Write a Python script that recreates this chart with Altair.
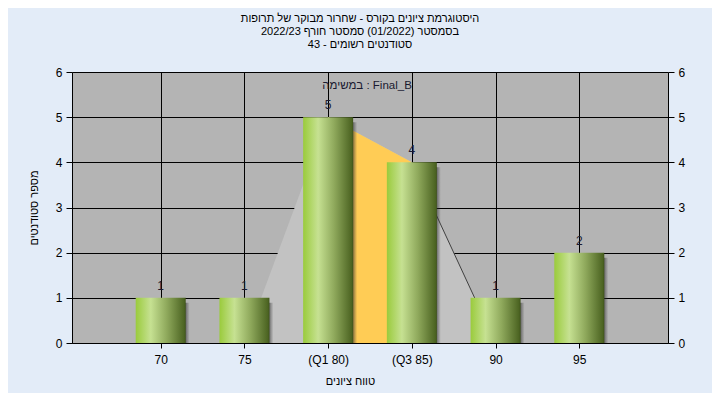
import altair as alt
import pandas as pd

# ---- data ----
grades = [70, 75, 80, 85, 90, 95]
counts = [1, 1, 5, 4, 1, 2]
tick_labels = ["70", "75", "(Q1 80)", "(Q3 85)", "90", "95"]

poly_x = [75, 80, 85, 90]
poly_y = [0, 5, 4, 0]
iqr_x = [80, 85]
iqr_y = [5, 4]
tail_x = [85, 90]
tail_y = [4, 0]

title_lines = [
    "היסטוגרמת ציונים בקורס - שחרור מבוקר של תרופות",
    "בסמסטר  (01/2022)  סמסטר חורף 2022/23",
    "סטודנטים רשומים - 43",
]
annotation = "במשימה : Final_B"
x_title = "טווח ציונים"
y_title = "מספר סטודנטים"

FONT = "Liberation Sans"

bars_df = pd.DataFrame({"x": grades, "y": counts})
poly_df = pd.DataFrame({"x": poly_x, "y": poly_y})
iqr_df = pd.DataFrame({"x": iqr_x, "y": iqr_y})
tail_df = pd.DataFrame({"x": tail_x, "y": tail_y})

label_expr = " : ".join(
    [f"datum.value == {g} ? '{t}'" for g, t in zip(grades, tick_labels)]
) + " : ''"

xscale = alt.Scale(domain=[65, 100], nice=False, zero=False)
yscale = alt.Scale(domain=[0, 6], nice=False)

xaxis = alt.Axis(
    values=grades, labelExpr=label_expr, title=x_title, grid=True,
    gridColor="#000000", gridOpacity=1, gridWidth=1,
    domainColor="#000000", tickColor="#000000", tickSize=5,
    labelFont=FONT, labelFontSize=12, labelColor="#000000", labelPadding=6,
    titleFont=FONT, titleFontSize=11, titleFontWeight="normal",
    titleColor="#000000", titleX=278, titleY=38, titleBaseline="middle",
)
yaxis_left = alt.Axis(
    values=[0, 1, 2, 3, 4, 5, 6], title=y_title, grid=True,
    gridColor="#000000", gridOpacity=1, gridWidth=1,
    domainColor="#000000", tickColor="#000000", tickSize=6,
    labelFont=FONT, labelFontSize=12, labelColor="#000000", labelPadding=4,
    titleFont=FONT, titleFontSize=11, titleFontWeight="normal",
    titleColor="#000000", titlePadding=16,
)
yaxis_right = alt.Axis(
    values=[0, 1, 2, 3, 4, 5, 6], orient="right", title=None, grid=False,
    domainColor="#000000", tickColor="#000000", tickSize=6,
    labelFont=FONT, labelFontSize=12, labelColor="#000000", labelPadding=4,
)

X = alt.X("x:Q", scale=xscale, axis=xaxis)

area = alt.Chart(poly_df).mark_area(color="#c2c2c2", opacity=1).encode(
    x=X,
    y=alt.Y("y:Q", scale=yscale, axis=yaxis_left),
)
iqr = alt.Chart(iqr_df).mark_area(color="#ffcc55", opacity=1).encode(
    x=X,
    y=alt.Y("y:Q", scale=yscale, axis=None),
)
tail = alt.Chart(tail_df).mark_line(color="#404040", strokeWidth=1).encode(
    x=X,
    y=alt.Y("y:Q", scale=yscale, axis=None),
)

shadow_grad = alt.Gradient(
    gradient="linear", x1=0, x2=1, y1=0, y2=0,
    stops=[
        alt.GradientStop(color="#2a2a2a", offset=0),
        alt.GradientStop(color="#2a2a2a", offset=0.9),
        alt.GradientStop(color="rgba(60,60,60,0)", offset=1),
    ],
)
shadow = alt.Chart(bars_df).mark_bar(
    size=50, xOffset=4, yOffset=5, fill=shadow_grad, opacity=0.7, clip=True
).encode(
    x=X,
    y=alt.Y("y:Q", scale=yscale, axis=None),
)

bar_grad = alt.Gradient(
    gradient="linear", x1=0, x2=1, y1=0, y2=0,
    stops=[
        alt.GradientStop(color="#9acb3c", offset=0),
        alt.GradientStop(color="#c6e192", offset=0.3),
        alt.GradientStop(color="#8fa95c", offset=0.62),
        alt.GradientStop(color="#4c6422", offset=0.97),
        alt.GradientStop(color="#3e521a", offset=1),
    ],
)
bars = alt.Chart(bars_df).mark_bar(size=50, fill=bar_grad).encode(
    x=X,
    y=alt.Y("y:Q", scale=yscale, axis=yaxis_right),
)

labels = alt.Chart(bars_df).mark_text(
    baseline="bottom", dy=-5, font=FONT, fontSize=12, color="#1a1a30"
).encode(
    x=X,
    y=alt.Y("y:Q", scale=yscale, axis=None),
    text=alt.Text("y:Q"),
)

note = alt.Chart(pd.DataFrame({"t": [annotation]})).mark_text(
    font=FONT, fontSize=11.5, color="#1a1a30", baseline="middle", align="center"
).encode(x=alt.value(295), y=alt.value(14), text="t:N")

chart = alt.layer(area, iqr, tail, shadow, bars, labels, note).resolve_axis(
    y="independent"
).properties(
    width=596, height=271,
    autosize=alt.AutoSizeParams(type="none"),
    padding={"left": 64, "top": 64, "right": 44, "bottom": 50},
    background="#e3ecf8",
    title=alt.TitleParams(
        text=title_lines, font=FONT, fontSize=11, fontWeight="normal",
        color="#000000", anchor="middle", offset=16, dx=-10, lineHeight=13,
    ),
).configure_view(fill="#b4b4b4", stroke=None)

chart.save("out.html", embed_options={"renderer": "svg", "actions": False})
